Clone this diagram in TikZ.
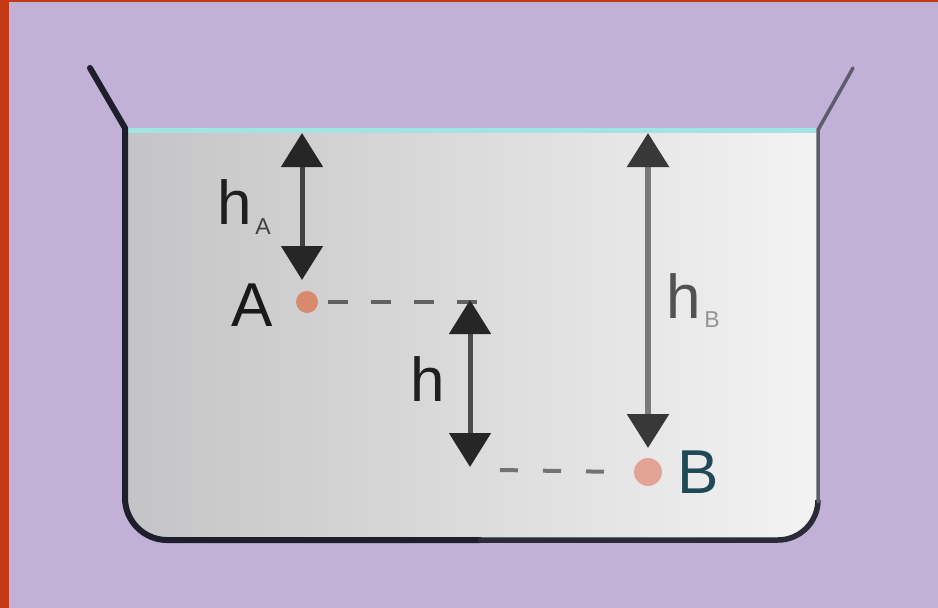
\documentclass[tikz,border=0pt]{standalone}
\usepackage{fontspec}
\setmainfont{Liberation Sans}
\usetikzlibrary{arrows.meta}
\definecolor{lav}{HTML}{C1B1D7}
\definecolor{redstrip}{HTML}{C33A14}
\definecolor{waterL}{HTML}{C4C4C6}
\definecolor{waterR}{HTML}{F3F3F3}
\definecolor{surf}{HTML}{A2E4E2}
\definecolor{walldark}{HTML}{1E1E2C}
\definecolor{wallmid}{HTML}{2A2A38}
\definecolor{walllight}{HTML}{5C5C6C}
\definecolor{dotA}{HTML}{D98A6E}
\definecolor{dotB}{HTML}{E3A394}
\definecolor{labB}{HTML}{1F4A55}
\tikzset{
  bigtxt/.style={inner sep=0pt, font=\fontsize{62}{62}\selectfont},
  subtxt/.style={inner sep=0pt, font=\fontsize{23}{23}\selectfont},
  dimarrow/.style={line width=5pt, {Triangle[width=41pt,length=34pt,color=#1]}-{Triangle[width=41pt,length=34pt,color=#1]}},
  dashline/.style={line width=4pt, dash pattern=on 20pt off 23pt},
  pointdot/.style={circle, inner sep=0pt, minimum size=#1}
}
\begin{document}
\begin{tikzpicture}[x=1pt,y=-1pt]
\fill[lav] (0,0) rectangle (938,608);
\fill[redstrip] (0,0) rectangle (9,608);
\fill[redstrip] (0,0) rectangle (938,1.5);
\useasboundingbox (0,0) rectangle (938,608);
% water
\shade[left color=waterL, right color=waterR] (125,129) -- (125,498) .. controls (125,521) and (144,540) .. (167,540) -- (778,540) .. controls (800,540) and (818,522) .. (818,500) -- (818,129) -- cycle;
\draw[surf, line width=5pt] (127,130) -- (816,130);
% beaker outline
\draw[walldark, line width=6pt, line join=round, line cap=round] (90,68) -- (125,128) -- (125,498) .. controls (125,521) and (144,540) .. (167,540) -- (480,540);
\draw[wallmid, line width=5.5pt, line join=round] (478,540) -- (778,540) .. controls (800,540) and (818,522) .. (818,500);
\draw[walllight, line width=3.5pt, line join=round, line cap=round] (818,502) -- (818,130) -- (853,68);
% points
\node[pointdot=22pt, fill=dotA] (A) at (307,302) {};
\node[pointdot=28pt, fill=dotB] (B) at (648,472) {};
% coordinates
\coordinate (hAtop) at (302,133);
\coordinate (hAbot) at (302,280);
\coordinate (dAend) at (487,302);
\coordinate (htop) at (470,300);
\coordinate (hbot) at (470,467);
\coordinate (dBstart) at (500,470);
\coordinate (hBtop) at (648,133);
\coordinate (hBbot) at (648,448);
% dashed
\draw[dashline, color=black!62] ([xshift=10pt]A.east) -- (dAend);
\draw[dashline, color=black!55, dash pattern=on 18pt off 25pt] (dBstart) -- ([xshift=-12pt]B.west);
% arrows
\draw[dimarrow=black!85, draw=black!75] (hAtop) -- (hAbot);
\draw[dimarrow=black!85, draw=black!70] (htop) -- (hbot);
\draw[dimarrow=black!78, draw=black!52, line width=6pt] (hBtop) -- (hBbot);
% labels
\node[bigtxt, text=black!90] (Alab) at (252,305) {A};
\node[bigtxt, text=labB] (Blab) at (698,472) {B};
\node[bigtxt, text=black!88] (hAlab) at (235,202) {h};
\node[subtxt, text=black!75] (hAsub) at (263,227) {A};
\node[bigtxt, text=black!88] (hlab) at (428,379) {h};
\node[bigtxt, text=black!68] (hBlab) at (684,296) {h};
\node[subtxt, text=black!42] (hBsub) at (712,320) {B};
\end{tikzpicture}
\end{document}
